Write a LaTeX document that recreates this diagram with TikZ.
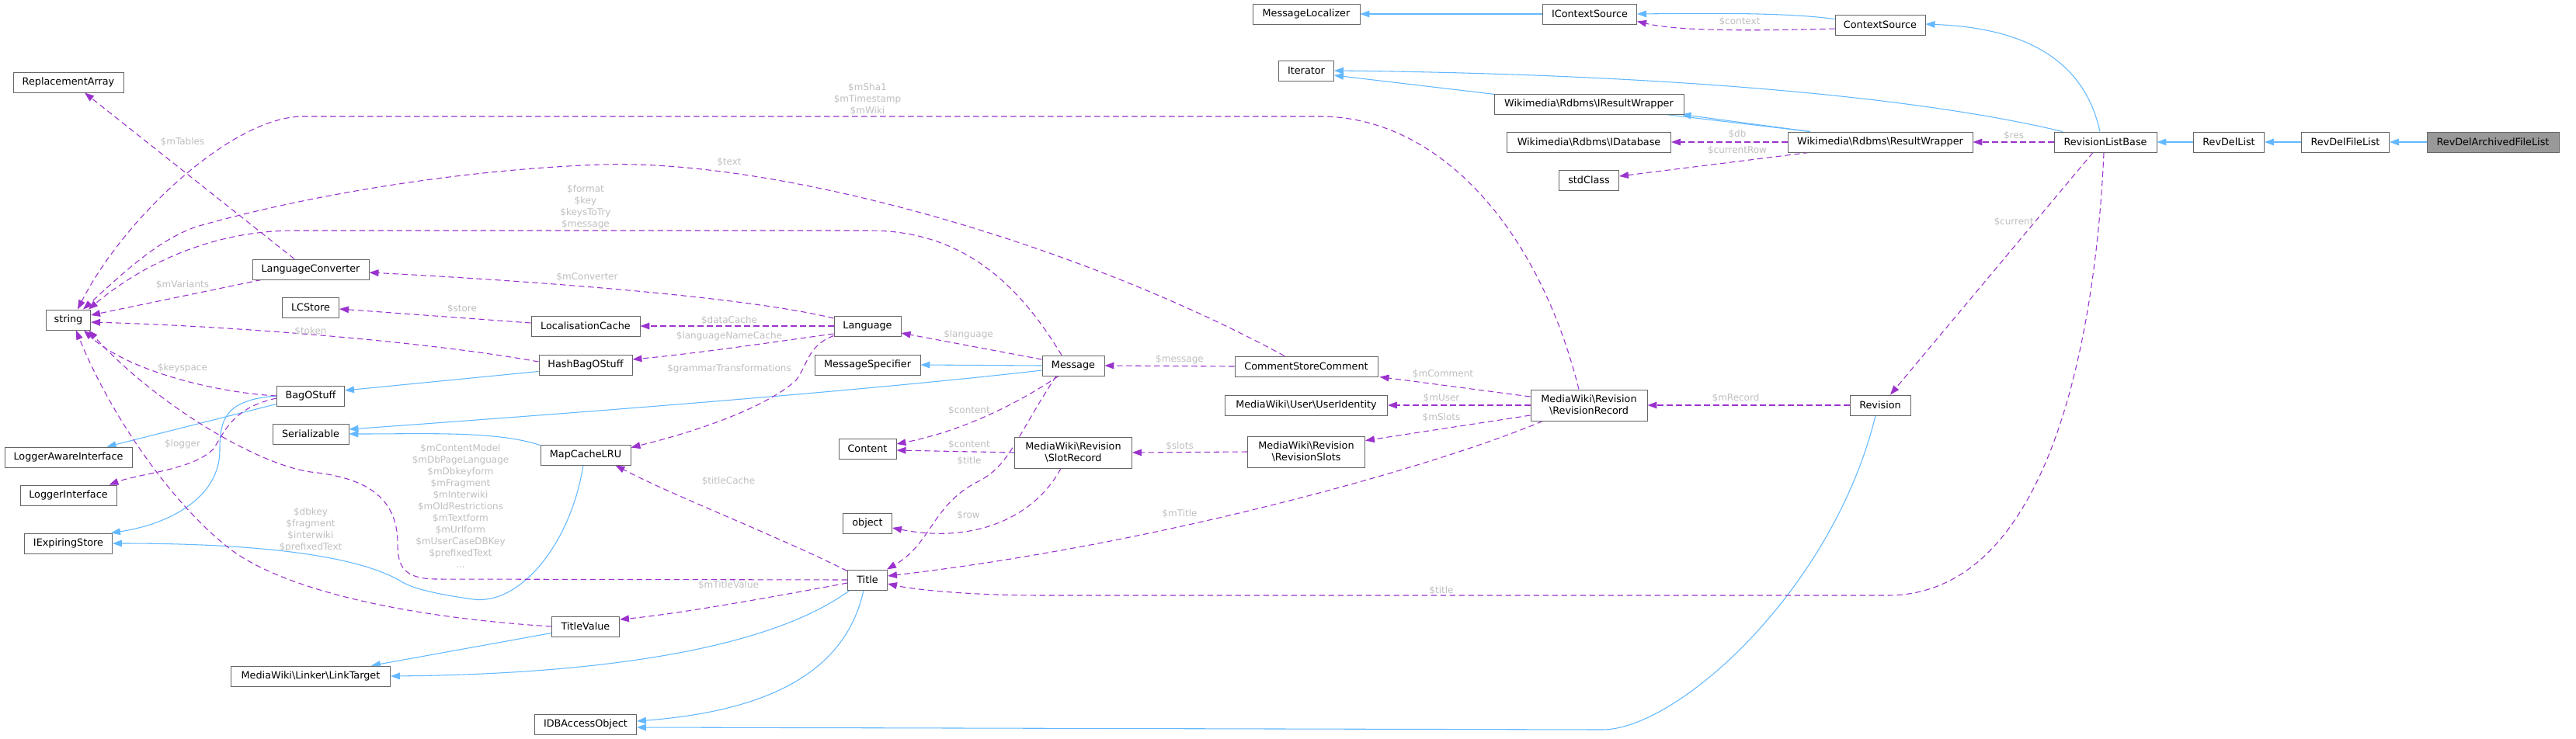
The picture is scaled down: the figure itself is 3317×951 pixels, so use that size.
\documentclass[tikz,border=0pt]{standalone}
\usepackage{fontspec}
\setmainfont{DejaVu Sans}
\usetikzlibrary{arrows.meta,calc}
\pgfdeclarelayer{edges}
\pgfsetlayers{edges,main}
\definecolor{inhblue}{HTML}{63B8FF}
\definecolor{usepurple}{HTML}{9A32CD}
\definecolor{boxborder}{HTML}{666666}
\definecolor{focusfill}{HTML}{999999}
\definecolor{lblgray}{HTML}{BEBEBE}
\tikzset{
  box/.style={draw=boxborder, line width=0.7pt, fill=white, inner sep=0pt, minimum height=19.5pt,
    font=\fontsize{9.6}{11.5}\selectfont, align=center, text=black},
  tall/.style={minimum height=30pt},
  lbl/.style={font=\fontsize{9}{11.2}\selectfont, text=lblgray, inner sep=0pt, align=center},
  inh/.style={draw=inhblue, line width=0.8pt, -{Triangle[length=9pt,width=6.5pt]}},
  use/.style={draw=usepurple, line width=0.8pt, dash pattern=on 5.5pt off 3.5pt, -{Triangle[length=9pt,width=6.5pt]}},
}
\begin{document}
\begin{tikzpicture}[x=0.75pt,y=-0.75pt]
\useasboundingbox (0,0) rectangle (3317,951);
% nodes
\node[box, fill=focusfill, minimum width=127.5pt] (rdafl) at (3210,183) {RevDelArchivedFileList};
\node[box, minimum width=84.75pt] (rdfl) at (3020,183) {RevDelFileList};
\node[box, minimum width=68.25pt] (rdl) at (2870,183) {RevDelList};
\node[box, minimum width=99pt] (rlb) at (2711,183) {RevisionListBase};
\node[box, minimum width=178.5pt] (rw) at (2421,183) {Wikimedia\textbackslash Rdbms\textbackslash ResultWrapper};
\node[box, minimum width=87pt] (cs) at (2421,32) {ContextSource};
\node[box, minimum width=90.75pt] (ics) at (2047,18) {IContextSource};
\node[box, minimum width=103.5pt] (ml) at (1682,18) {MessageLocalizer};
\node[box, minimum width=53.25pt] (it) at (1682,91) {Iterator};
\node[box, minimum width=183pt] (irw) at (2046,134) {Wikimedia\textbackslash Rdbms\textbackslash IResultWrapper};
\node[box, minimum width=158.25pt] (idb) at (2046,183) {Wikimedia\textbackslash Rdbms\textbackslash IDatabase};
\node[box, minimum width=57.75pt] (std) at (2046,232) {stdClass};
\node[box, minimum width=58.5pt] (rev) at (2421,522) {Revision};
\node[box, tall, minimum width=112.5pt] (rr) at (2046,522) {MediaWiki\textbackslash Revision\\\textbackslash RevisionRecord};
\node[box, minimum width=156.75pt] (ui) at (1682,522) {MediaWiki\textbackslash User\textbackslash UserIdentity};
\node[box, minimum width=138pt] (csc) at (1682,472) {CommentStoreComment};
\node[box, tall, minimum width=113.25pt] (rs) at (1682,582) {MediaWiki\textbackslash Revision\\\textbackslash RevisionSlots};
\node[box, tall, minimum width=113.25pt] (sr) at (1382,583) {MediaWiki\textbackslash Revision\\\textbackslash SlotRecord};
\node[box, minimum width=60pt] (msg) at (1382,471) {Message};
\node[box, minimum width=64.5pt] (lang) at (1117,420) {Language};
\node[box, minimum width=102pt] (ms) at (1117,470) {MessageSpecifier};
\node[box, minimum width=55.5pt] (cont) at (1117,578) {Content};
\node[box, minimum width=47.25pt] (obj) at (1117,674) {object};
\node[box, minimum width=38.25pt] (title) at (1117,747) {Title};
\node[box, minimum width=105pt] (lc) at (754,420) {LocalisationCache};
\node[box, minimum width=90pt] (hbos) at (754,470) {HashBagOStuff};
\node[box, minimum width=87pt] (mcl) at (754,586) {MapCacheLRU};
\node[box, minimum width=65.25pt] (tv) at (754,807) {TitleValue};
\node[box, minimum width=98.25pt] (idao) at (754,933) {IDBAccessObject};
\node[box, minimum width=112.5pt] (lconv) at (400,347) {LanguageConverter};
\node[box, minimum width=54.75pt] (lcs) at (400,396) {LCStore};
\node[box, minimum width=65.25pt] (bos) at (400,510) {BagOStuff};
\node[box, minimum width=73.5pt] (ser) at (400,559) {Serializable};
\node[box, minimum width=153.75pt] (lt) at (400,871) {MediaWiki\textbackslash Linker\textbackslash LinkTarget};
\node[box, minimum width=106.5pt] (ra) at (88,106) {ReplacementArray};
\node[box, minimum width=42.75pt] (str) at (88,412) {string};
\node[box, minimum width=123pt] (lai) at (88,589) {LoggerAwareInterface};
\node[box, minimum width=93pt] (li) at (88,638) {LoggerInterface};
\node[box, minimum width=84.75pt] (ies) at (88,700) {IExpiringStore};

\begin{pgfonlayer}{edges}
% inheritance edges
\draw[inh] (rdafl.west) -- (rdfl.east);
\draw[inh] (rdfl.west) -- (rdl.east);
\draw[inh] (rdl.west) -- (rlb.east);
\draw[inh] ($(rlb.north)+(-7,0)$) .. controls (2680,60) and (2580,35) .. ($(cs.east)+(0,-1)$);
\draw[inh] ($(rlb.north)+(-55,0)$) .. controls (2450,120) and (2100,95) .. (it.east);
\draw[inh] ($(cs.north west)+(0,6)$) .. controls (2300,16) and (2200,17) .. (ics.east);
\draw[inh] (ics.west) -- (ml.east);
\draw[inh] ($(rw.north)+(-90,0)$) -- ($(it.east)+(0,6)$);
\draw[inh] ($(rw.north)+(-90,0)$) -- ($(irw.south east)+(-3,0)$);
\draw[inh] ($(rev.south)+(-6,0)$) .. controls (2360,760) and (2160,940) .. (2063,940) -- ($(idao.east)+(0,4)$);
\draw[inh] ($(title.south)+(-5,0)$) .. controls (1090,860) and (1000,915) .. ($(idao.east)+(0,-4)$);
\draw[inh] ($(title.south west)+(3,0)$) .. controls (1000,830) and (800,868) .. (lt.east);
\draw[inh] ($(tv.south west)+(0,-5)$) -- ($(lt.north east)+(-25,0)$);
\draw[inh] (msg.west) -- (ms.east);
\draw[inh] ($(msg.west)+(0,6)$) .. controls (1100,505) and (700,535) .. ($(ser.east)+(0,-6)$);
\draw[inh] ($(mcl.north west)+(0,1)$) .. controls (640,555) and (550,559) .. (ser.east);
\draw[inh] ($(mcl.south)+(-3,0)$) .. controls (735,700) and (670,780) .. (609,772) .. controls (560,765) and (530,758) .. (515,748) .. controls (440,705) and (260,700) .. (ies.east);
\draw[inh] ($(hbos.south west)+(0,-5)$) -- ($(bos.east)+(0,-7)$);
\draw[inh] ($(bos.south west)+(0,-3)$) -- ($(lai.north east)+(-33,0)$);
\draw[inh] (bos.west) .. controls (290,515) and (283,540) .. (283,580) .. controls (283,640) and (220,675) .. ($(ies.north east)+(-2,0)$);

% usage edges
\draw[use] (rlb.west) -- (rw.east);
\draw[use] ($(rlb.south)+(-16,0)$) -- ($(rev.north)+(13,0)$);
\draw[use] ($(rlb.south)+(-2,0)$) .. controls (2700,400) and (2650,767) .. (2430,767) -- (1345,767) .. controls (1250,767) and (1180,760) .. ($(title.east)+(0,5)$);
\draw[use] ($(cs.west)+(0,5)$) .. controls (2250,40) and (2160,40) .. ($(ics.south east)+(0,-4)$);
\draw[use] (rw.west) -- (idb.east);
\draw[use] ($(rw.south west)+(28,0)$) -- ($(std.east)+(0,-5)$);
\draw[use] (rev.west) -- (rr.east);
\draw[use] ($(rr.west)+(0,-11)$) -- ($(csc.south east)+(2,0)$);
\draw[use] (rr.west) -- (ui.east);
\draw[use] ($(rr.west)+(0,13)$) -- ($(rs.north east)+(0,6)$);
\draw[use] ($(rr.south west)+(16,0)$) .. controls (1850,600) and (1500,700) .. ($(title.east)+(0,-5)$);
\draw[use] ($(rr.north)+(-13,0)$) .. controls (1980,290) and (1850,150) .. (1700,150) -- (390,150) .. controls (300,150) and (160,280) .. ($(str.north)+(12,0)$);
\draw[use] (rs.west) -- (sr.east);
\draw[use] (sr.west) -- ($(cont.east)+(0,2)$);
\draw[use] ($(sr.south)+(-16,0)$) .. controls (1330,670) and (1250,700) .. ($(obj.east)+(0,6)$);
\draw[use] (csc.west) -- (msg.east);
\draw[use] ($(csc.north)+(-28,0)$) .. controls (1380,310) and (1000,205) .. (775,212) .. controls (600,218) and (400,250) .. (253,292) .. controls (200,310) and (150,360) .. ($(str.north)+(19,0)$);
\draw[use] ($(msg.west)+(0,-8)$) -- ($(lang.east)+(0,9)$);
\draw[use] ($(msg.south)+(-19,0)$) .. controls (1310,520) and (1240,555) .. ($(cont.east)+(0,-6)$);
\draw[use] ($(msg.south)+(-22,0)$) .. controls (1310,560) and (1300,600) .. (1260,620) .. controls (1200,650) and (1200,700) .. ($(title.north east)+(-1,0)$);
\draw[use] ($(msg.north)+(-15,0)$) .. controls (1320,380) and (1250,297) .. (1120,297) -- (380,297) .. controls (250,297) and (160,360) .. ($(str.north)+(26,0)$);
\draw[use] ($(lang.west)+(0,-10)$) .. controls (950,380) and (650,360) .. ($(lconv.east)+(0,4)$);
\draw[use] (lang.west) -- (lc.east);
\draw[use] ($(lang.west)+(0,10)$) .. controls (1000,440) and (900,455) .. ($(hbos.east)+(0,-7)$);
\draw[use] ($(lang.south west)+(0,-1)$) .. controls (1040,445) and (1040,470) .. (1025,490) .. controls (980,530) and (880,560) .. ($(mcl.north east)+(0,4)$);
\draw[use] ($(lconv.north)+(-21,0)$) -- ($(ra.south)+(21,0)$);
\draw[use] ($(lconv.south west)+(12,0)$) -- ($(str.east)+(0,-6)$);
\draw[use] ($(lc.west)+(0,-4)$) -- ($(lcs.east)+(0,2)$);
\draw[use] ($(hbos.west)+(0,-4)$) .. controls (550,440) and (300,420) .. ($(str.east)+(0,3)$);
\draw[use] (bos.west) .. controls (270,505) and (160,475) .. ($(str.south)+(20,0)$);
\draw[use] ($(bos.west)+(0,3)$) .. controls (300,525) and (290,555) .. (275,578) .. controls (250,605) and (180,610) .. ($(li.north east)+(-10,0)$);
\draw[use] ($(title.north west)+(0,2)$) .. controls (1000,690) and (870,640) .. ($(mcl.south east)+(-20,0)$);
\draw[use] ($(title.west)+(0,4)$) .. controls (1000,768) and (880,790) .. ($(tv.east)+(0,-9)$);
\draw[use] (title.west) -- (560,746) .. controls (520,745) and (512,730) .. (512,700) .. controls (512,640) and (470,615) .. (400,608) .. controls (330,598) and (200,520) .. ($(str.south)+(26,0)$);
\draw[use] (tv.west) .. controls (520,795) and (370,760) .. (300,710) .. controls (220,650) and (140,530) .. ($(str.south)+(10,0)$);
\end{pgfonlayer}

% labels
\node[lbl] (l1) at (2593,175) {\$res};
\node[lbl] (l2) at (2593,286) {\$current};
\node[lbl] (l3) at (1856,761) {\$title};
\node[lbl] (l4) at (2240,28) {\$context};
\node[lbl] (l5) at (2237,173) {\$db};
\node[lbl] (l6) at (2237,194) {\$currentRow};
\node[lbl] (l7) at (2235,513) {\$mRecord};
\node[lbl] (l8) at (1858,482) {\$mComment};
\node[lbl] (l9) at (1856,513) {\$mUser};
\node[lbl] (l10) at (1856,538) {\$mSlots};
\node[lbl] (l11) at (1519,662) {\$mTitle};
\node[lbl] (l12) at (1117,128) {\$mSha1\\\$mTimestamp\\\$mWiki};
\node[lbl] (l13) at (1519,575) {\$slots};
\node[lbl] (l14) at (1248,573) {\$content};
\node[lbl] (l15) at (1247,664) {\$row};
\node[lbl] (l16) at (1519,463) {\$message};
\node[lbl] (l17) at (939,209) {\$text};
\node[lbl] (l18) at (1247,431) {\$language};
\node[lbl] (l19) at (1248,529) {\$content};
\node[lbl] (l20) at (1248,594) {\$title};
\node[lbl] (l21) at (754,267) {\$format\\\$key\\\$keysToTry\\\$message};
\node[lbl] (l22) at (756,357) {\$mConverter};
\node[lbl] (l23) at (939,413) {\$dataCache};
\node[lbl] (l24) at (939,433) {\$languageNameCache};
\node[lbl] (l25) at (939,475) {\$grammarTransformations};
\node[lbl] (l26) at (235,183) {\$mTables};
\node[lbl] (l27) at (235,367) {\$mVariants};
\node[lbl] (l28) at (595,398) {\$store};
\node[lbl] (l29) at (400,427) {\$token};
\node[lbl] (l30) at (235,474) {\$keyspace};
\node[lbl] (l31) at (235,572) {\$logger};
\node[lbl] (l32) at (938,620) {\$titleCache};
\node[lbl] (l33) at (938,754) {\$mTitleValue};
\node[lbl] (l34) at (593,652) {\$mContentModel\\\$mDbPageLanguage\\\$mDbkeyform\\\$mFragment\\\$mInterwiki\\\$mOldRestrictions\\\$mTextform\\\$mUrlform\\\$mUserCaseDBKey\\\$prefixedText\\...};
\node[lbl] (l35) at (400,683) {\$dbkey\\\$fragment\\\$interwiki\\\$prefixedText};
\end{tikzpicture}
\end{document}
